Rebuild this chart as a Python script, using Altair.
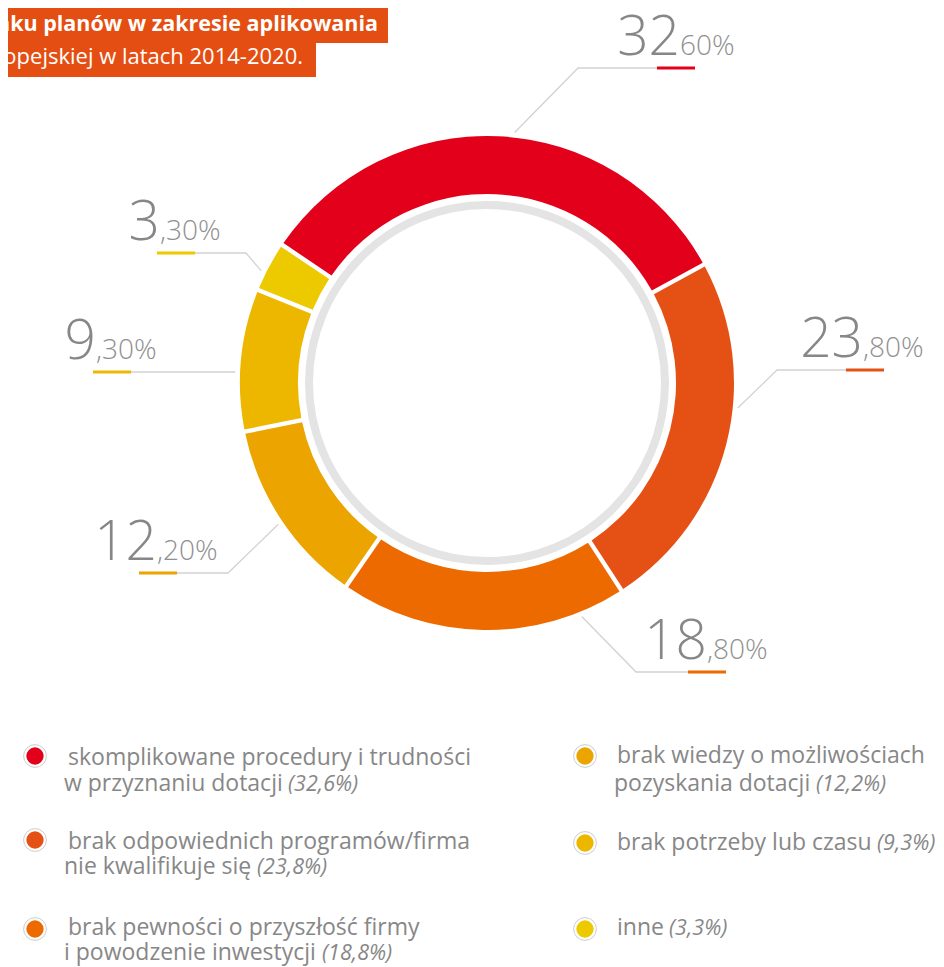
import math
import altair as alt
import pandas as pd

# ---------------- data ----------------
categories = [
    "skomplikowane procedury i trudności w przyznaniu dotacji",
    "brak odpowiednich programów/firma nie kwalifikuje się",
    "brak pewności o przyszłość firmy i powodzenie inwestycji",
    "brak wiedzy o możliwościach pozyskania dotacji",
    "brak potrzeby lub czasu",
    "inne",
]
values = [32.6, 23.8, 18.8, 12.2, 9.3, 3.3]
big_labels = ["32", "23", "18", "12", "9", "3"]
small_labels = ["60%", ",80%", ",80%", ",20%", ",30%", ",30%"]
legend_line1 = [
    "skomplikowane procedury i trudności",
    "brak odpowiednich programów/firma",
    "brak pewności o przyszłość firmy",
    "brak wiedzy o możliwościach",
    "brak potrzeby lub czasu",
    "inne",
]
legend_line2 = ["w przyznaniu dotacji", "nie kwalifikuje się", "i powodzenie inwestycji",
                "pozyskania dotacji", "", ""]
legend_pct = ["(32,6%)", "(23,8%)", "(18,8%)", "(12,2%)", "(9,3%)", "(3,3%)"]
title_lines = ["nku planów w zakresie aplikowania", "opejskiej w latach 2014-2020."]

# ---------------- style / layout ----------------
colors = ["#E2001A", "#E55115", "#EC6A00", "#EBA400", "#EDB700", "#EDC900"]
TEXT_GREY = "#878787"
W, H = 928, 959
OFF = 8  # page margin
def px(v): return v - OFF

CX, CY = px(487), px(383)
R_OUT, R_IN = 247, 189
RING_OUT, RING_IN = 182, 174
START = math.radians(-56)

lead_angle = [6.3, 95.7, 157.9, 235.9, 272.5, 296.4]
lead_r = 252
elbow_x = [578, 777, 636, 228, None, 246]
line_y = [68, 370, 672, 573, None, 253]
end_x = [695, 884, 726, 139, 93, 157]
split_x = [680, 863, 707, 157, 96, 160]

circ_x = [35, 35, 35, 585, 585, 585]
circ_y = [756, 840, 929, 756, 843, 929]
l1_x = [68, 68, 68, 617, 617, 617]
l1_y = [765, 849, 935, 763, 850, 935]
l2_x = [64, 64, 64, 614, 614, 614]
l2_y = [791, 874, 960, 791, 0, 0]
it_x = [288, 257, 322, 816, 877, 669]
it_line = [2, 2, 2, 2, 1, 1]

xs = alt.Scale(domain=[0, W], nice=False, zero=False)
ys = alt.Scale(domain=[0, H], nice=False, zero=False, reverse=True)
X = lambda f: alt.X(f, scale=xs, axis=None)
Y = lambda f: alt.Y(f, scale=ys, axis=None)
cscale = alt.Scale(domain=categories, range=colors)

# ---------------- donut ----------------
df_arc = pd.DataFrame({"category": categories, "value": values,
                       "order": list(range(len(values))), "cx": CX, "cy": CY})
donut = alt.Chart(df_arc).mark_arc(radius=R_OUT, radius2=R_IN, padAngle=0.014).encode(
    theta=alt.Theta("value:Q", stack=True,
                    scale=alt.Scale(range=[START, START + 2 * math.pi])),
    color=alt.Color("category:N", scale=cscale, legend=None),
    order=alt.Order("order:Q"),
    x=X("cx:Q"), y=Y("cy:Q"),
)
ring = alt.Chart(pd.DataFrame({"cx": [CX], "cy": [CY]})).mark_arc(
    radius=RING_OUT, radius2=RING_IN, theta=0, theta2=2 * math.pi, color="#E3E4E3"
).encode(x=X("cx:Q"), y=Y("cy:Q"))

# ---------------- leaders ----------------
lead_rows, under_rows, lab_rows = [], [], []
for i, cat in enumerate(categories):
    a = math.radians(lead_angle[i])
    sx = CX + lead_r * math.sin(a)
    sy = CY - lead_r * math.cos(a)
    if elbow_x[i] is None:
        ly = sy
        pts = [(sx, sy), (px(end_x[i]), ly)]
    else:
        ly = px(line_y[i])
        pts = [(sx, sy), (px(elbow_x[i]), ly), (px(end_x[i]), ly)]
    for k, (x, y) in enumerate(pts):
        lead_rows.append({"category": cat, "k": k, "x": x, "y": y})
    ex = px(end_x[i])
    direction = 1 if px(end_x[i]) > sx else -1
    x_in = ex - 38 * direction
    under_rows.append({"category": cat, "x": min(ex, x_in), "x2": max(ex, x_in), "y": ly})
    lab_rows.append({"category": cat, "x": px(split_x[i]), "y": ly - 13,
                     "big": big_labels[i], "small": small_labels[i]})

leaders = alt.Chart(pd.DataFrame(lead_rows)).mark_line(color="#d2d2d2", strokeWidth=1.3).encode(
    x=X("x:Q"), y=Y("y:Q"), detail="category:N", order="k:Q")
underline = alt.Chart(pd.DataFrame(under_rows)).mark_rule(strokeWidth=3).encode(
    x=X("x:Q"), x2="x2:Q", y=Y("y:Q"),
    color=alt.Color("category:N", scale=cscale, legend=None))
df_lab = pd.DataFrame(lab_rows)
big_txt = alt.Chart(df_lab).mark_text(align="right", baseline="alphabetic", font="Open Sans",
                                      fontSize=55, fontWeight=300, color="#878787").encode(
    x=X("x:Q"), y=Y("y:Q"), text="big:N")
small_txt = alt.Chart(df_lab).mark_text(align="left", baseline="alphabetic", font="Open Sans",
                                        fontSize=28, fontWeight=300, color="#909090").encode(
    x=X("x:Q"), y=Y("y:Q"), text="small:N")

# ---------------- legend ----------------
leg = pd.DataFrame({
    "category": categories,
    "cx": [px(v) for v in circ_x], "cy": [px(v) for v in circ_y],
    "l1x": [px(v) for v in l1_x], "l1y": [px(v) for v in l1_y],
    "l2x": [px(v) for v in l2_x], "l2y": [px(v) for v in l2_y],
    "l1": legend_line1, "l2": legend_line2,
    "itx": [px(v) for v in it_x],
    "ity": [px(l2_y[i]) if it_line[i] == 2 else px(l1_y[i]) for i in range(6)],
    "pct": legend_pct,
})
leg_outer = alt.Chart(leg).mark_point(shape="circle", filled=False, fill="white", fillOpacity=1,
                                      stroke="#cdcdcd", strokeWidth=1, size=520, opacity=1).encode(
    x=X("cx:Q"), y=Y("cy:Q"))
leg_dot = alt.Chart(leg).mark_circle(size=300, opacity=1).encode(
    x=X("cx:Q"), y=Y("cy:Q"), color=alt.Color("category:N", scale=cscale, legend=None))
tstyle = dict(align="left", baseline="alphabetic", font="Open Sans", color=TEXT_GREY)
leg_l1 = alt.Chart(leg).mark_text(fontSize=23, **tstyle).encode(x=X("l1x:Q"), y=Y("l1y:Q"), text="l1:N")
leg_l2 = alt.Chart(leg[leg["l2"] != ""]).mark_text(fontSize=23, **tstyle).encode(
    x=X("l2x:Q"), y=Y("l2y:Q"), text="l2:N")
leg_it = alt.Chart(leg).mark_text(fontStyle="italic", fontSize=21.5, **tstyle).encode(
    x=X("itx:Q"), y=Y("ity:Q"), text="pct:N")

# ---------------- title box ----------------
df_tb = pd.DataFrame({"x": [0, 0], "x2": [px(388), px(316)], "y": [0, px(43)], "y2": [px(43), px(77)]})
title_box = alt.Chart(df_tb).mark_rect(color="#E54E12").encode(
    x=X("x:Q"), x2="x2:Q", y=Y("y:Q"), y2="y2:Q")
df_tt = pd.DataFrame({"t": title_lines, "x": [px(378), px(303)], "y": [px(31), px(64)]})
title_t1 = alt.Chart(df_tt.iloc[[0]]).mark_text(align="right", baseline="alphabetic", font="Open Sans",
                                              fontSize=21.5, fontWeight="bold", color="white", clip=True).encode(
    x=X("x:Q"), y=Y("y:Q"), text="t:N")
title_t2 = alt.Chart(df_tt.iloc[[1]]).mark_text(align="right", baseline="alphabetic", font="Open Sans",
                                              fontSize=22, color="white", clip=True).encode(
    x=X("x:Q"), y=Y("y:Q"), text="t:N")

chart = alt.layer(
    title_box, title_t1, title_t2, ring, donut, leaders, underline, big_txt, small_txt,
    leg_outer, leg_dot, leg_l1, leg_l2, leg_it,
).properties(width=W, height=H, padding=0, autosize=alt.AutoSizeParams(type="none")
).configure_view(stroke=None)

chart.save("out.html", embed_options={"renderer": "svg", "actions": False})
